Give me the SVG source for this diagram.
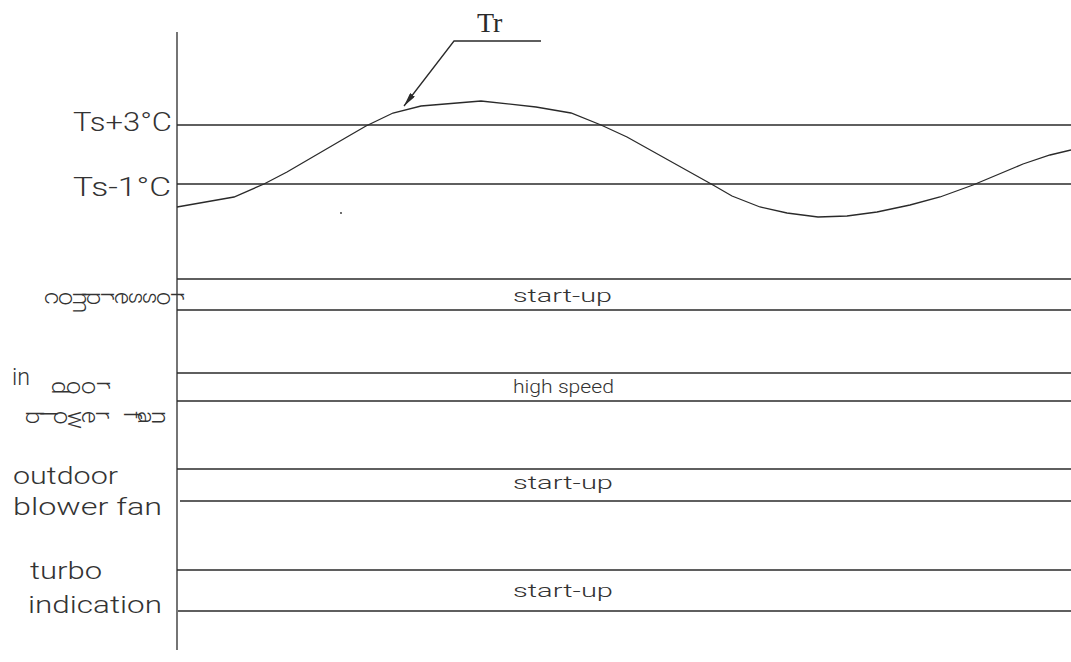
<svg xmlns="http://www.w3.org/2000/svg" width="1071" height="662" viewBox="0 0 1071 662">
<defs>
<style>
.ln{stroke:#2a2a2a;stroke-width:1.3;fill:none}
.lbl{font-family:Roboto,"Liberation Sans",Arial,sans-serif;font-weight:300;fill:#333333;font-size:23px}
.lg{font-family:Roboto,"Liberation Sans",Arial,sans-serif;font-weight:300;fill:#333333;font-size:25px}
.st{font-family:Roboto,"Liberation Sans",Arial,sans-serif;font-weight:300;fill:#333333;font-size:19px}
.rot{font-family:Roboto,"Liberation Sans",Arial,sans-serif;font-weight:300;fill:#333333;font-size:24px}
</style>
<marker id="ah" viewBox="0 0 14 6" refX="14" refY="3" markerWidth="14" markerHeight="6" markerUnits="userSpaceOnUse" orient="auto">
<path d="M0,0 L14,3 L0,6 Z" fill="#2a2a2a"/>
</marker>
</defs>
<rect width="1071" height="662" fill="#ffffff"/>
<g id="axes">
<line class="ln" x1="177" y1="32" x2="177" y2="650"/>
</g>
<g id="thresholds">
<line class="ln" x1="177" y1="125" x2="1071" y2="125"/>
<line class="ln" x1="177" y1="184" x2="1071" y2="184"/>
<text class="lg" x="73" y="131" textLength="99" lengthAdjust="spacingAndGlyphs">Ts+3°C</text>
<text class="lg" x="73" y="196" textLength="98" lengthAdjust="spacingAndGlyphs">Ts-1°C</text>
</g>
<g id="curve">
<polyline class="ln" points="177,207 234,197 264,184 287,172 347,137 366,126 393,113 421,106 481,101 536,107 571,113 601,125 627,137 713,185 732,196 760,207 787,213 818,217 847,216 877,212 910,205 940,197 973,185 1023,164 1050,155 1071,150"/>
<circle cx="341" cy="213" r="0.9" fill="#2a2a2a"/>
</g>
<g id="connectors">
<polyline class="ln" points="541,41 454,41 404,106" marker-end="url(#ah)"/>
</g>
<g id="tr-label">
<text x="477" y="32" font-family="'Liberation Serif','Times New Roman',serif" font-size="28" fill="#2a2a2a">Tr</text>
</g>
<g id="compressor">
<line class="ln" x1="177" y1="279" x2="1071" y2="279"/>
<line class="ln" x1="177" y1="310" x2="1071" y2="310"/>
<text class="rot" x="45 59 73 87 101 115 129 143 157 171" y="292" rotate="90">compressor</text>
<text class="st" x="513" y="302" textLength="99" lengthAdjust="spacingAndGlyphs">start-up</text>
</g>
<g id="indoor-fan">
<line class="ln" x1="177" y1="373" x2="1071" y2="373"/>
<line class="ln" x1="177" y1="401" x2="1071" y2="401"/>
<text class="lbl" x="12" y="385" textLength="18" lengthAdjust="spacingAndGlyphs">in</text>
<text class="rot" x="52 67 82 97" y="381" rotate="90">door</text>
<text class="rot" x="26 40 54 68 82 96 110 124 138 152" y="411" rotate="90">blower fan</text>
<text class="st" x="513" y="393" textLength="101" lengthAdjust="spacingAndGlyphs">high speed</text>
</g>
<g id="outdoor-fan">
<line class="ln" x1="177" y1="469" x2="1071" y2="469"/>
<line class="ln" x1="180" y1="501" x2="1071" y2="501"/>
<text class="lbl" x="13" y="484" textLength="105" lengthAdjust="spacingAndGlyphs">outdoor</text>
<text class="lbl" x="13" y="515" textLength="149" lengthAdjust="spacingAndGlyphs">blower fan</text>
<text class="st" x="513" y="489" textLength="100" lengthAdjust="spacingAndGlyphs">start-up</text>
</g>
<g id="turbo">
<line class="ln" x1="177" y1="570" x2="1071" y2="570"/>
<line class="ln" x1="178" y1="611" x2="1071" y2="611"/>
<text class="lbl" x="30" y="579" textLength="72" lengthAdjust="spacingAndGlyphs">turbo</text>
<text class="lbl" x="28" y="613" textLength="134" lengthAdjust="spacingAndGlyphs">indication</text>
<text class="st" x="513" y="597" textLength="100" lengthAdjust="spacingAndGlyphs">start-up</text>
</g>
</svg>
